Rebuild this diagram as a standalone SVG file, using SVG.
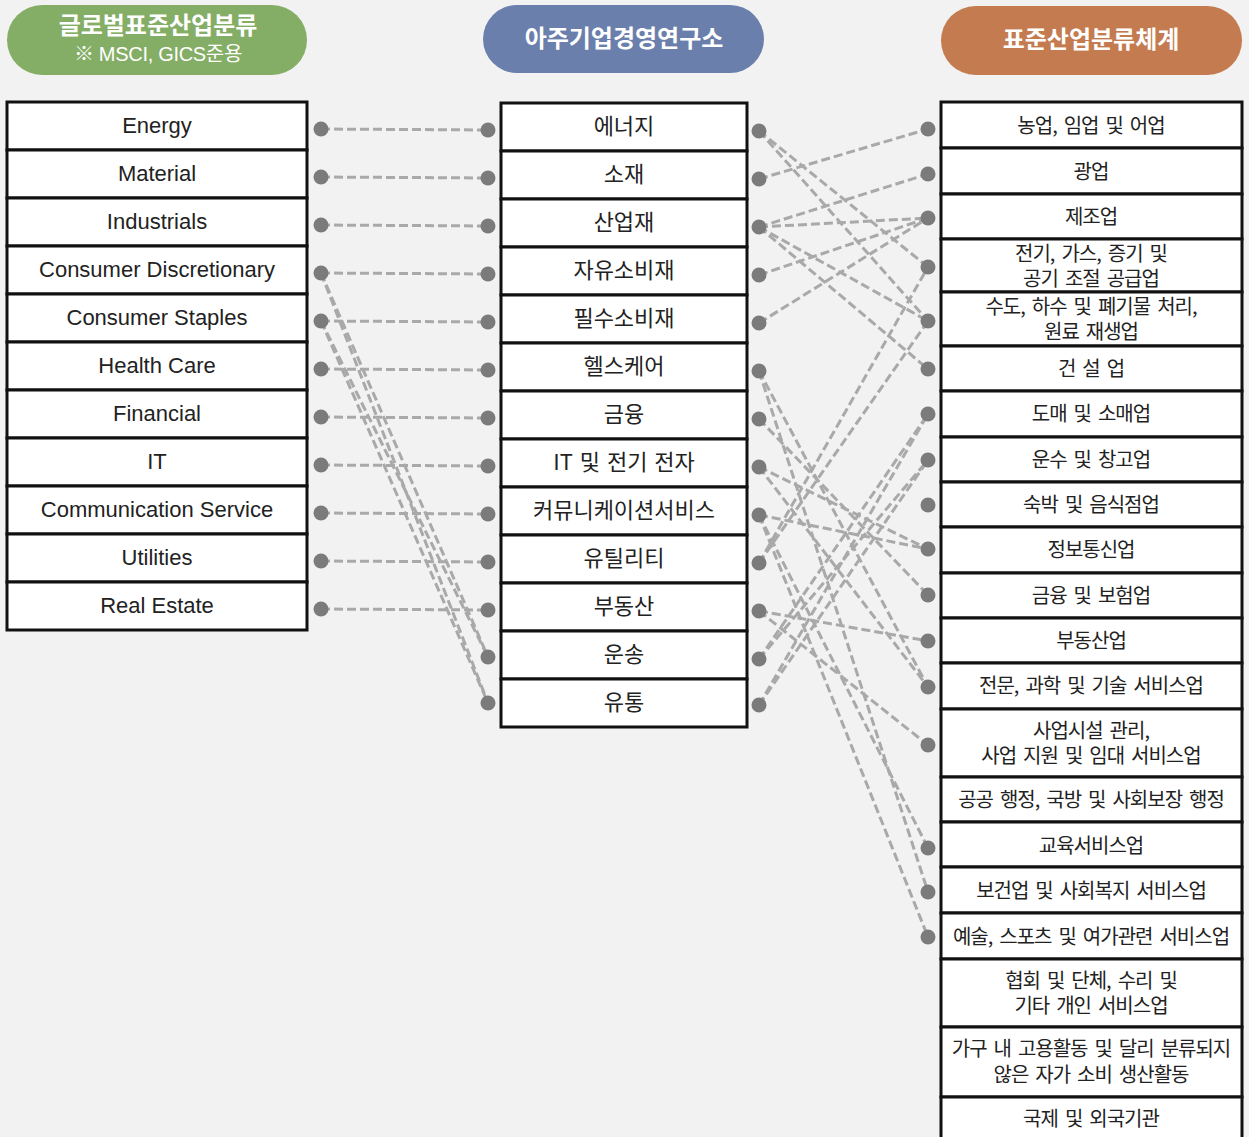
<svg xmlns="http://www.w3.org/2000/svg" width="1249" height="1137" viewBox="0 0 1249 1137">
<style>
.box{fill:#fff;stroke:#111;stroke-width:3}
.en{font-family:"Liberation Sans","Noto Sans CJK KR",sans-serif;font-size:22px;fill:#222;text-anchor:middle;dominant-baseline:central}
.mk{font-family:"Noto Sans CJK KR","Noto Sans",sans-serif;font-size:22px;letter-spacing:0px;word-spacing:2px;fill:#222;text-anchor:middle;dominant-baseline:central}
.rk{font-family:"Noto Sans CJK KR","Noto Sans",sans-serif;font-size:20px;letter-spacing:-1px;word-spacing:3.5px;fill:#222;text-anchor:middle;dominant-baseline:central}
.hd{font-family:"Noto Sans CJK KR","Noto Sans",sans-serif;font-size:24px;font-weight:bold;letter-spacing:0px;fill:#fff;text-anchor:middle;dominant-baseline:central}
.hs{font-family:"Liberation Sans","Noto Sans CJK KR",sans-serif;font-size:20px;fill:#fff;text-anchor:middle;dominant-baseline:central;letter-spacing:-0.3px}
.ln{fill:none;stroke:#a9a9a9;stroke-width:3;stroke-dasharray:9 4}
.dot{fill:#7b7b7b}
</style>
<rect width="1249" height="1137" fill="#f2f2f2"/>

<g id="header-global">
<rect x="7" y="5" width="300" height="70" rx="35" fill="#84ad66"/>
<text class="hd" x="158" y="23">글로벌표준산업분류</text>
<text class="hs" x="158" y="54">※ MSCI, GICS준용</text>
</g>
<g id="header-aju">
<rect x="483" y="5" width="281" height="68" rx="34" fill="#6a7fab"/>
<text class="hd" x="624" y="36">아주기업경영연구소</text>
</g>
<g id="header-ksic">
<rect x="941" y="6" width="301" height="69" rx="34.5" fill="#c47b4f"/>
<text class="hd" x="1091" y="37">표준산업분류체계</text>
</g>

<g id="left-column">
<g id="g-energy"><rect class="box" x="7" y="102" width="300" height="48"/><text class="en" x="157" y="125">Energy</text></g>
<g id="g-material"><rect class="box" x="7" y="150" width="300" height="48"/><text class="en" x="157" y="173">Material</text></g>
<g id="g-industrials"><rect class="box" x="7" y="198" width="300" height="48"/><text class="en" x="157" y="221">Industrials</text></g>
<g id="g-consumer-disc"><rect class="box" x="7" y="246" width="300" height="48"/><text class="en" x="157" y="269">Consumer Discretionary</text></g>
<g id="g-consumer-staples"><rect class="box" x="7" y="294" width="300" height="48"/><text class="en" x="157" y="317">Consumer Staples</text></g>
<g id="g-health"><rect class="box" x="7" y="342" width="300" height="48"/><text class="en" x="157" y="365">Health Care</text></g>
<g id="g-financial"><rect class="box" x="7" y="390" width="300" height="48"/><text class="en" x="157" y="413">Financial</text></g>
<g id="g-it"><rect class="box" x="7" y="438" width="300" height="48"/><text class="en" x="157" y="461">IT</text></g>
<g id="g-comm"><rect class="box" x="7" y="486" width="300" height="48"/><text class="en" x="157" y="509">Communication Service</text></g>
<g id="g-utilities"><rect class="box" x="7" y="534" width="300" height="48"/><text class="en" x="157" y="557">Utilities</text></g>
<g id="g-realestate"><rect class="box" x="7" y="582" width="300" height="48"/><text class="en" x="157" y="605">Real Estate</text></g>
</g>

<g id="middle-column">
<g id="m-energy"><rect class="box" x="501" y="103" width="246" height="48"/><text class="mk" x="624" y="124">에너지</text></g>
<g id="m-material"><rect class="box" x="501" y="151" width="246" height="48"/><text class="mk" x="624" y="172">소재</text></g>
<g id="m-industrials"><rect class="box" x="501" y="199" width="246" height="48"/><text class="mk" x="624" y="220">산업재</text></g>
<g id="m-consumer-disc"><rect class="box" x="501" y="247" width="246" height="48"/><text class="mk" x="624" y="268">자유소비재</text></g>
<g id="m-consumer-staples"><rect class="box" x="501" y="295" width="246" height="48"/><text class="mk" x="624" y="316">필수소비재</text></g>
<g id="m-health"><rect class="box" x="501" y="343" width="246" height="48"/><text class="mk" x="624" y="364">헬스케어</text></g>
<g id="m-financial"><rect class="box" x="501" y="391" width="246" height="48"/><text class="mk" x="624" y="412">금융</text></g>
<g id="m-it"><rect class="box" x="501" y="439" width="246" height="48"/><text class="mk" x="624" y="460">IT 및 전기 전자</text></g>
<g id="m-comm"><rect class="box" x="501" y="487" width="246" height="48"/><text class="mk" x="624" y="508">커뮤니케이션서비스</text></g>
<g id="m-utilities"><rect class="box" x="501" y="535" width="246" height="48"/><text class="mk" x="624" y="556">유틸리티</text></g>
<g id="m-realestate"><rect class="box" x="501" y="583" width="246" height="48"/><text class="mk" x="624" y="604">부동산</text></g>
<g id="m-transport"><rect class="box" x="501" y="631" width="246" height="48"/><text class="mk" x="624" y="652">운송</text></g>
<g id="m-distribution"><rect class="box" x="501" y="679" width="246" height="48"/><text class="mk" x="624" y="700">유통</text></g>
</g>

<g id="right-column">
<g id="r-01"><rect class="box" x="941" y="102" width="301" height="46"/><text class="rk" x="1091" y="124">농업, 임업 및 어업</text></g>
<g id="r-02"><rect class="box" x="941" y="148" width="301" height="46"/><text class="rk" x="1091" y="170">광업</text></g>
<g id="r-03"><rect class="box" x="941" y="194" width="301" height="45"/><text class="rk" x="1091" y="215">제조업</text></g>
<g id="r-04"><rect class="box" x="941" y="239" width="301" height="53"/><text class="rk" x="1091" y="252"><tspan x="1091" y="252">전기, 가스, 증기 및</tspan><tspan x="1091" y="277">공기 조절 공급업</tspan></text></g>
<g id="r-05"><rect class="box" x="941" y="292" width="301" height="54"/><text class="rk" x="1091" y="305"><tspan x="1091" y="305">수도, 하수 및 폐기물 처리,</tspan><tspan x="1091" y="330">원료 재생업</tspan></text></g>
<g id="r-06"><rect class="box" x="941" y="346" width="301" height="45"/><text class="rk" x="1091" y="367">건 설 업</text></g>
<g id="r-07"><rect class="box" x="941" y="391" width="301" height="46"/><text class="rk" x="1091" y="412">도매 및 소매업</text></g>
<g id="r-08"><rect class="box" x="941" y="437" width="301" height="45"/><text class="rk" x="1091" y="458">운수 및 창고업</text></g>
<g id="r-09"><rect class="box" x="941" y="482" width="301" height="45"/><text class="rk" x="1091" y="503">숙박 및 음식점업</text></g>
<g id="r-10"><rect class="box" x="941" y="527" width="301" height="46"/><text class="rk" x="1091" y="548">정보통신업</text></g>
<g id="r-11"><rect class="box" x="941" y="573" width="301" height="45"/><text class="rk" x="1091" y="594">금융 및 보험업</text></g>
<g id="r-12"><rect class="box" x="941" y="618" width="301" height="45"/><text class="rk" x="1091" y="639">부동산업</text></g>
<g id="r-13"><rect class="box" x="941" y="663" width="301" height="46"/><text class="rk" x="1091" y="684">전문, 과학 및 기술 서비스업</text></g>
<g id="r-14"><rect class="box" x="941" y="709" width="301" height="68"/><text class="rk" x="1091" y="729"><tspan x="1091" y="729">사업시설 관리,</tspan><tspan x="1091" y="754">사업 지원 및 임대 서비스업</tspan></text></g>
<g id="r-15"><rect class="box" x="941" y="777" width="301" height="45"/><text class="rk" x="1091" y="798">공공 행정, 국방 및 사회보장 행정</text></g>
<g id="r-16"><rect class="box" x="941" y="822" width="301" height="45"/><text class="rk" x="1091" y="844">교육서비스업</text></g>
<g id="r-17"><rect class="box" x="941" y="867" width="301" height="46"/><text class="rk" x="1091" y="889">보건업 및 사회복지 서비스업</text></g>
<g id="r-18"><rect class="box" x="941" y="913" width="301" height="46"/><text class="rk" x="1091" y="935">예술, 스포츠 및 여가관련 서비스업</text></g>
<g id="r-19"><rect class="box" x="941" y="959" width="301" height="68"/><text class="rk" x="1091" y="979"><tspan x="1091" y="979">협회 및 단체, 수리 및</tspan><tspan x="1091" y="1004">기타 개인 서비스업</tspan></text></g>
<g id="r-20"><rect class="box" x="941" y="1027" width="301" height="70"/><text class="rk" x="1091" y="1047"><tspan x="1091" y="1047">가구 내 고용활동 및 달리 분류되지</tspan><tspan x="1091" y="1073">않은 자가 소비 생산활동</tspan></text></g>
<g id="r-21"><rect class="box" x="941" y="1097" width="301" height="46"/><text class="rk" x="1091" y="1117">국제 및 외국기관</text></g>
</g>

<g id="connectors">
<line class="ln" x1="321" y1="129" x2="488" y2="130"/>
<line class="ln" x1="321" y1="177" x2="488" y2="178"/>
<line class="ln" x1="321" y1="225" x2="488" y2="226"/>
<line class="ln" x1="321" y1="273" x2="488" y2="274"/>
<line class="ln" x1="321" y1="321" x2="488" y2="322"/>
<line class="ln" x1="321" y1="369" x2="488" y2="370"/>
<line class="ln" x1="321" y1="417" x2="488" y2="418"/>
<line class="ln" x1="321" y1="465" x2="488" y2="466"/>
<line class="ln" x1="321" y1="513" x2="488" y2="514"/>
<line class="ln" x1="321" y1="561" x2="488" y2="562"/>
<line class="ln" x1="321" y1="609" x2="488" y2="610"/>
<line class="ln" x1="321" y1="273" x2="488" y2="657"/>
<line class="ln" x1="321" y1="273" x2="488" y2="703"/>
<line class="ln" x1="321" y1="321" x2="488" y2="657"/>
<line class="ln" x1="321" y1="321" x2="488" y2="703"/>

<line class="ln" x1="759" y1="131" x2="928" y2="267"/>
<line class="ln" x1="759" y1="131" x2="928" y2="321"/>
<line class="ln" x1="759" y1="179" x2="928" y2="129"/>
<line class="ln" x1="759" y1="227" x2="928" y2="174"/>
<line class="ln" x1="759" y1="227" x2="928" y2="218"/>
<line class="ln" x1="759" y1="227" x2="928" y2="321"/>
<line class="ln" x1="759" y1="227" x2="928" y2="369"/>
<line class="ln" x1="759" y1="275" x2="928" y2="218"/>
<line class="ln" x1="759" y1="323" x2="928" y2="218"/>
<line class="ln" x1="759" y1="371" x2="928" y2="687"/>
<line class="ln" x1="759" y1="371" x2="928" y2="892"/>
<line class="ln" x1="759" y1="419" x2="928" y2="595"/>
<line class="ln" x1="759" y1="467" x2="928" y2="549"/>
<line class="ln" x1="759" y1="467" x2="928" y2="687"/>
<line class="ln" x1="759" y1="515" x2="928" y2="549"/>
<line class="ln" x1="759" y1="515" x2="928" y2="848"/>
<line class="ln" x1="759" y1="515" x2="928" y2="937"/>
<line class="ln" x1="759" y1="563" x2="928" y2="267"/>
<line class="ln" x1="759" y1="563" x2="928" y2="321"/>
<line class="ln" x1="759" y1="611" x2="928" y2="641"/>
<line class="ln" x1="759" y1="611" x2="928" y2="745"/>
<line class="ln" x1="759" y1="659" x2="928" y2="414"/>
<line class="ln" x1="759" y1="659" x2="928" y2="460"/>
<line class="ln" x1="759" y1="705" x2="928" y2="414"/>
<line class="ln" x1="759" y1="705" x2="928" y2="460"/>

<g class="dot">
<circle cx="321" cy="129" r="7.5"/><circle cx="321" cy="177" r="7.5"/><circle cx="321" cy="225" r="7.5"/><circle cx="321" cy="273" r="7.5"/><circle cx="321" cy="321" r="7.5"/><circle cx="321" cy="369" r="7.5"/><circle cx="321" cy="417" r="7.5"/><circle cx="321" cy="465" r="7.5"/><circle cx="321" cy="513" r="7.5"/><circle cx="321" cy="561" r="7.5"/><circle cx="321" cy="609" r="7.5"/>
<circle cx="488" cy="130" r="7.5"/><circle cx="488" cy="178" r="7.5"/><circle cx="488" cy="226" r="7.5"/><circle cx="488" cy="274" r="7.5"/><circle cx="488" cy="322" r="7.5"/><circle cx="488" cy="370" r="7.5"/><circle cx="488" cy="418" r="7.5"/><circle cx="488" cy="466" r="7.5"/><circle cx="488" cy="514" r="7.5"/><circle cx="488" cy="562" r="7.5"/><circle cx="488" cy="610" r="7.5"/><circle cx="488" cy="657" r="7.5"/><circle cx="488" cy="703" r="7.5"/>
<circle cx="759" cy="131" r="7.5"/><circle cx="759" cy="179" r="7.5"/><circle cx="759" cy="227" r="7.5"/><circle cx="759" cy="275" r="7.5"/><circle cx="759" cy="323" r="7.5"/><circle cx="759" cy="371" r="7.5"/><circle cx="759" cy="419" r="7.5"/><circle cx="759" cy="467" r="7.5"/><circle cx="759" cy="515" r="7.5"/><circle cx="759" cy="563" r="7.5"/><circle cx="759" cy="611" r="7.5"/><circle cx="759" cy="659" r="7.5"/><circle cx="759" cy="705" r="7.5"/>
<circle cx="928" cy="129" r="7.5"/><circle cx="928" cy="174" r="7.5"/><circle cx="928" cy="218" r="7.5"/><circle cx="928" cy="267" r="7.5"/><circle cx="928" cy="321" r="7.5"/><circle cx="928" cy="369" r="7.5"/><circle cx="928" cy="414" r="7.5"/><circle cx="928" cy="460" r="7.5"/><circle cx="928" cy="505" r="7.5"/><circle cx="928" cy="549" r="7.5"/><circle cx="928" cy="595" r="7.5"/><circle cx="928" cy="641" r="7.5"/><circle cx="928" cy="687" r="7.5"/><circle cx="928" cy="745" r="7.5"/><circle cx="928" cy="848" r="7.5"/><circle cx="928" cy="892" r="7.5"/><circle cx="928" cy="937" r="7.5"/>
</g>
</g>
</svg>
